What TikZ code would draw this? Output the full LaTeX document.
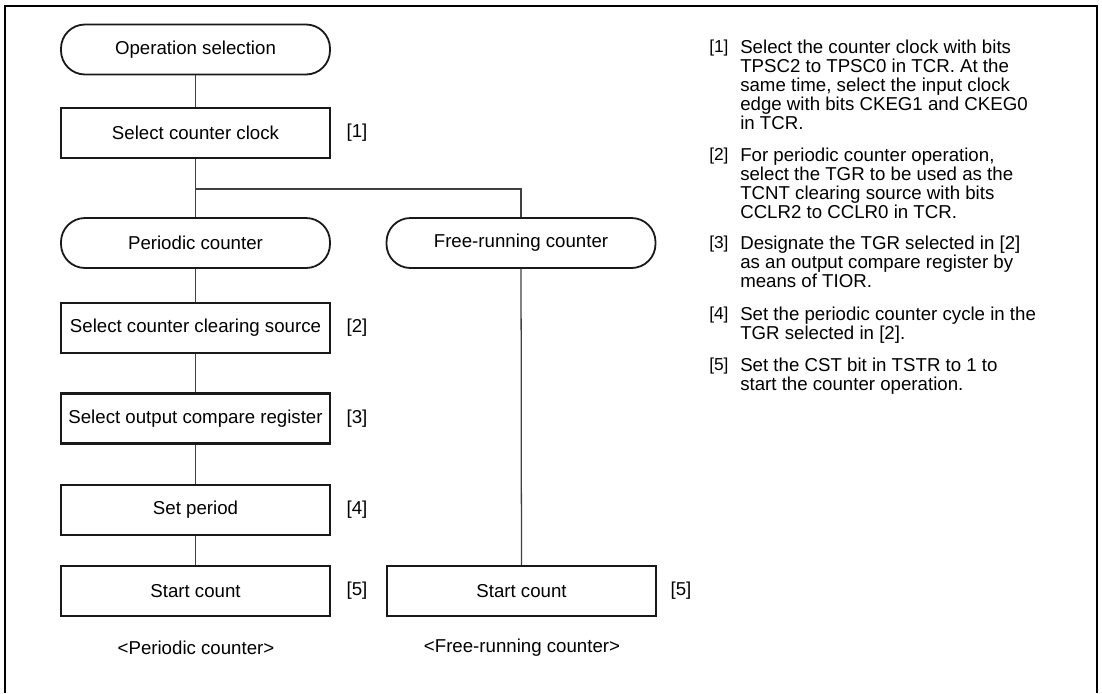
\documentclass[tikz,border=0pt]{standalone}
\usepackage{fontspec}
\setmainfont{Liberation Sans}
\begin{document}
\begin{tikzpicture}[x=0.75pt,y=-0.75pt,
  box/.style={draw=black!90, line width=1.65pt, minimum width=201.75pt, minimum height=37.5pt, inner sep=0pt, font=\fontsize{14}{16}\selectfont},
  term/.style={box, rounded corners=18pt, line width=1.35pt},
  conn/.style={draw=black!75, line width=0.95pt},
  lbl/.style={inner sep=0pt, font=\fontsize{14}{16}\selectfont},
  num/.style={inner sep=0pt, anchor=north west, font=\fontsize{13}{14}\selectfont},
  para/.style={inner sep=0pt, anchor=north west, align=left, font=\fontsize{14}{14.25}\selectfont}]
\useasboundingbox (0,0) rectangle (1102,693);
\draw[line width=2.2pt] (5,693) -- (5,6) -- (1097,6) -- (1097,693);

\node[term] (opsel) at (195.5,49.5) {Operation selection};
\node[box] (clk) at (195.5,133) {Select counter clock};
\node[term] (per) at (195.5,243) {Periodic counter};
\node[term] (free) at (521,243) {Free-running counter};
\node[box] (clr) at (195.5,328) {Select counter clearing source};
\node[box] (ocr) at (195.5,418.5) {Select output compare register};
\node[box] (setp) at (195.5,510) {Set period};
\node[box] (st1) at (195.5,591) {Start count};
\node[box] (st2) at (521.5,591) {Start count};

\node[lbl] (l1) at (357,133) {[1]};
\node[lbl] (l2) at (357,328) {[2]};
\node[lbl] (l3) at (357,418.5) {[3]};
\node[lbl] (l4) at (357,510) {[4]};
\node[lbl] (l5) at (357,591) {[5]};
\node[lbl] (l5b) at (681,591) {[5]};

\node[lbl] (cap1) at (196,648) {<Periodic counter>};
\node[lbl] (cap2) at (522,648) {<Free-running counter>};

\coordinate (br) at (521,189);
\draw[conn] (opsel) -- (clk);
\draw[conn] (clk) -- (per);
\draw[conn] (clk.south |- br) -- (br) -- (free.north);
\draw[conn] (per) -- (clr);
\draw[conn] (clr) -- (ocr);
\draw[conn] (ocr) -- (setp);
\draw[conn] (setp) -- (st1);
\draw[conn] (free) -- (st2);

\node[num] (n1) at (709,40) {[1]};
\node[para] (p1) at (740,40) {Select the counter clock with bits\\TPSC2 to TPSC0 in TCR. At the\\same time, select the input clock\\edge with bits CKEG1 and CKEG0\\in TCR.};
\node[num] (n2) at (709,148) {[2]};
\node[para] (p2) at (740,148) {For periodic counter operation,\\select the TGR to be used as the\\TCNT clearing source with bits\\CCLR2 to CCLR0 in TCR.};
\node[num] (n3) at (709,236) {[3]};
\node[para] (p3) at (740,236) {Designate the TGR selected in [2]\\as an output compare register by\\means of TIOR.};
\node[num] (n4) at (709,307) {[4]};
\node[para] (p4) at (740,307) {Set the periodic counter cycle in the\\TGR selected in [2].};
\node[num] (n5) at (709,358) {[5]};
\node[para] (p5) at (740,358) {Set the CST bit in TSTR to 1 to\\start the counter operation.};
\end{tikzpicture}
\end{document}
